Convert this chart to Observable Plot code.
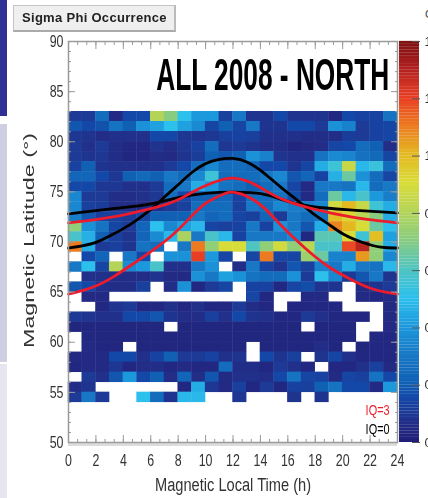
<!DOCTYPE html>
<html><head><meta charset="utf-8">
<script src="https://cdn.jsdelivr.net/npm/d3@7"></script>
<script src="https://cdn.jsdelivr.net/npm/@observablehq/plot@0.6"></script>
<style>
html,body{margin:0;padding:0;background:#fff;overflow:hidden}
#page{position:relative;width:428px;height:498px;overflow:hidden;font-family:"Liberation Sans",Arial,sans-serif}
#page svg{position:absolute;left:0;top:0;filter:blur(0.45px);background:transparent!important}
.strip{position:absolute;left:0;width:7px}
#btn{position:absolute;left:13px;top:5px;width:163px;height:27px;box-sizing:border-box;background:#efefef;border:1px solid #c4c4c4;border-bottom:2px solid #aaa;border-right:2px solid #bbb;font:bold 13px "Liberation Sans",sans-serif;color:#222;line-height:24px;padding-left:8px;letter-spacing:.3px;white-space:nowrap;filter:blur(.4px)}
#frag{position:absolute;left:425px;top:8px;font:11px "Liberation Sans",sans-serif;color:#444}
</style></head><body><div id="page">
<div class="strip" style="top:0;height:116px;background:#2f2f96"></div>
<div class="strip" style="top:124px;height:238px;background:#cfcfe2"></div>
<div class="strip" style="top:364px;height:134px;background:#e6e6f0"></div>
<div id="btn">Sigma Phi Occurrence</div>
<div id="frag">C</div>
</div>
<script>
const _ = null;
const topLat = 83;
const occurrence = [
[10,10,25,5,15,15,80,70,50,40,40,12,30,8,8,15,8,8,8,4,15,13,13,28],
[18,15,17,28,20,38,42,50,42,36,14,20,14,30,8,8,15,15,10,38,33,10,13,14],
[9,8,6,7,7,7,15,15,9,8,9,12,13,12,7,7,7,6,6,6,11,10,13,14],
[10,7,10,6,4,4,8,6,9,13,25,9,10,8,6,6,3,5,6,14,15,25,20,6],
[10,8,9,6,3,4,6,5,8,11,20,18,20,38,33,8,7,7,28,36,34,27,24,14],
[13,20,8,7,7,7,7,10,15,25,35,25,25,22,15,15,8,14,45,55,85,48,54,25],
[22,22,15,9,20,24,20,30,24,35,55,25,25,25,30,35,18,22,13,46,65,38,25,14],
[15,15,9,9,7,7,10,25,30,45,40,28,25,20,25,30,14,5,30,30,28,48,25,30],
[35,10,10,6,6,7,9,25,15,20,20,22,13,25,25,28,16,5,25,65,48,58,40,32],
[35,12,11,6,6,5,6,9,12,25,25,25,12,30,25,35,32,32,35,88,100,85,55,45],
[32,18,12,12,10,14,20,20,20,30,22,25,14,12,22,10,30,25,28,98,92,82,70,45],
[72,38,28,14,10,22,50,35,42,48,14,12,13,30,13,38,30,18,45,108,100,90,65,50],
[58,46,20,12,8,22,36,48,78,30,58,48,13,30,30,30,35,4,62,62,90,55,98,42],
[110,45,10,12,8,28,25,_,30,110,72,90,90,60,72,88,72,82,58,58,118,128,72,45],
[_,15,22,_,30,15,_,38,38,120,40,14,_,14,110,14,14,75,65,33,33,105,72,35],
[30,50,14,80,36,40,58,7,7,30,38,_,6,30,13,8,18,12,33,30,45,30,28,48],
[_,7,7,6,6,6,8,5,5,38,30,42,38,28,25,25,38,10,50,35,10,18,30,8],
[18,15,7,6,6,12,_,6,38,4,10,14,_,13,13,4,14,16,8,8,_,5,8,10],
[_,5,5,_,_,_,_,_,_,_,_,_,_,14,4,_,_,5,5,_,_,5,4,5],
[_,_,4,8,10,4,4,7,4,7,4,4,10,6,4,_,4,4,4,4,_,_,_,5],
[10,8,7,7,15,15,18,8,6,6,12,7,15,8,7,4,4,10,7,4,4,4,_,5],
[3,3,3,3,3,3,3,_,3,3,3,3,3,3,3,3,3,_,3,3,3,_,_,5],
[_,4,3,3,3,3,3,3,3,3,3,3,3,3,3,3,3,3,3,3,3,_,4,4],
[_,5,3,3,_,3,3,3,3,3,3,3,3,_,3,3,3,3,6,3,_,3,4,4],
[5,5,5,15,15,7,13,20,10,10,13,7,8,_,15,8,12,_,8,14,7,4,4,4],
[4,5,5,9,4,6,6,4,5,4,4,25,6,6,4,10,7,4,_,4,4,7,12,5],
[_,10,7,18,40,15,20,6,22,6,18,5,7,7,6,15,28,14,13,5,14,12,28,15],
[6,8,_,_,_,_,_,_,4,45,9,5,12,4,10,4,13,12,20,28,15,15,5,40],
[10,30,10,_,_,50,25,8,48,48,_,_,9,_,_,_,8,_,8,_,_,_,_,_]
];
const colorStops = [0,.05,.1,.15,.2,.3,.4,.5,.6,.7,.8,.9,1,1.1,1.2,1.3,1.4];
const colorRange = ["#1f1f78","#232a84","#1c3a96","#1448a8","#1060b4","#1878c6","#1c98dc","#2cc0ec","#50c4c0","#88cc80","#b4d458","#d8dc38","#e4b820","#ec7a20","#e83e24","#b02020","#7a1010"];

const blackOuterH = [0,1,2,3,4,5,6,7,8,9,10,11,12,13,14.3,15.5,16.7,17.9,18.9,20,21.5,22.8,24];
const blackOuterL = [69.4,69.6,69.9,70.6,71.3,72.2,73.2,74.5,75.7,77,77.9,78.3,78.4,78.1,76.9,75.4,74.2,72.7,71.9,70.7,69.9,69.4,69.4];
const blackInnerH = [0,3.6,6,8,10,12,14.3,15.5,17.4,20.4,24];
const blackInnerL = [72.8,73.4,73.7,74.5,74.9,75,74.9,74.2,73.5,73.2,72.9];
const redUpperH = [0,3.6,6.5,7.7,9.9,11.6,12,13,14.3,15.5,18,20.4,24];
const redUpperL = [71.9,72.5,73.5,73.9,75.7,76.4,76.4,76.2,75.2,74.2,73.2,72.5,71.9];
const redLowerH = [0,1.8,3.3,4.8,6.2,7.7,9.6,10.1,11.6,12,13,14.3,15.3,17.2,18.9,20.4,22.1,24];
const redLowerL = [64.8,65.4,66.5,67.9,69.2,70.7,73.5,74,75,75,74.7,73.5,71.9,69.4,67.5,66.4,65.2,64.8];
const xTicks = d3.range(0,25,2);
const xMinor = d3.range(0,24.01,2/3);
const yTicks = [50,55,60,65,70,75,80,85,90];
const yMinor = d3.range(50,91,1);
const barTicks = [0,.2,.4,.6,.8,1,1.2,1.4];

const cells = occurrence.flatMap((r,i)=>r.map((v,j)=>({h:j,lat:topLat-i,v:v==null?null:v/100}))).filter(d=>d.v!=null);
const zip=(H,L)=>H.map((h,i)=>({h,lat:L[i]}));
const sans='"Liberation Sans",Arial,sans-serif';
const gray="#9a9a9a";
const lw=2.8;
const blank=()=>"";

const main = Plot.plot({
  width:428,height:498,marginLeft:68,marginRight:31,marginTop:41,marginBottom:56,
  style:{background:"transparent",overflow:"hidden"},
  x:{domain:[0,24],axis:null},
  y:{domain:[50,90],axis:null},
  color:{type:"linear",domain:colorStops,range:colorRange,interpolate:"rgb"},
  marks:[
    Plot.rect(cells,{x1:"h",x2:d=>d.h+1,y1:"lat",y2:d=>d.lat-1,fill:"v",inset:-0.2}),
    Plot.line(zip(blackOuterH,blackOuterL),{x:"h",y:"lat",stroke:"#000",strokeWidth:lw,curve:"basis"}),
    Plot.line(zip(blackInnerH,blackInnerL),{x:"h",y:"lat",stroke:"#000",strokeWidth:lw,curve:"basis"}),
    Plot.line(zip(redUpperH,redUpperL),{x:"h",y:"lat",stroke:"#ec1c2c",strokeWidth:lw,curve:"basis"}),
    Plot.line(zip(redLowerH,redLowerL),{x:"h",y:"lat",stroke:"#ec1c2c",strokeWidth:lw,curve:"basis"}),
    Plot.ruleY([50],{stroke:"#dcdcdc",strokeWidth:3,dy:2}),
    Plot.axisX({anchor:"bottom",ticks:xMinor,tickSize:-3,tickFormat:blank,stroke:gray,label:null}),
    Plot.axisX({anchor:"top",ticks:xMinor,tickSize:-3,tickFormat:blank,stroke:gray,label:null}),
    Plot.axisY({anchor:"left",ticks:yMinor,tickSize:-3,tickFormat:blank,stroke:gray,label:null}),
    Plot.axisY({anchor:"right",ticks:yMinor,tickSize:-3,tickFormat:blank,stroke:gray,label:null}),
    Plot.axisX({anchor:"top",ticks:xTicks,tickSize:-7,tickFormat:blank,stroke:gray,label:null}),
    Plot.axisX({anchor:"bottom",ticks:xTicks,tickSize:-7,stroke:gray,label:null,tickPadding:19,fontSize:16,fontFamily:sans,fill:"#333"}),
    Plot.axisY({anchor:"left",ticks:yTicks,tickSize:-7,stroke:gray,label:null,tickPadding:12,fontSize:16,fontFamily:sans,fill:"#333"}),
    Plot.axisY({anchor:"right",ticks:yTicks,tickSize:-7,tickFormat:blank,stroke:gray,label:null}),
    Plot.frame({stroke:gray,strokeWidth:1.5}),
    Plot.text(["ALL 2008 - NORTH"],{x:14.9,y:86.6,fontSize:45,fontWeight:"bold",fontFamily:sans,fill:"#000"}),
    Plot.text(["IQ=3"],{x:22.55,y:53.2,fontSize:15,fontFamily:sans,fill:"#ec1c2c"}),
    Plot.text(["IQ=0"],{x:22.55,y:51.35,fontSize:15,fontFamily:sans,fill:"#000"}),
    Plot.text(["Magnetic Local Time (h)"],{x:12,y:45.75,fontSize:18,fontFamily:sans,fill:"#333"}),
    Plot.text(["Magnetic Latitude (°)"],{x:-2.9,y:70.15,rotate:-90,fontSize:15.5,fontFamily:sans,fill:"#333"})
  ]
});
const lengths = {"ALL 2008 - NORTH":233,"IQ=3":24,"IQ=0":24,"Magnetic Local Time (h)":156,"Magnetic Latitude (°)":215};
main.querySelectorAll("text").forEach(t=>{
  const s=t.textContent.trim();
  if(lengths[s]){t.setAttribute("textLength",lengths[s]);t.setAttribute("lengthAdjust","spacingAndGlyphs");}
  else if(/^\d+$/.test(s)&&s.length){t.setAttribute("textLength",s.length*6.9);t.setAttribute("lengthAdjust","spacingAndGlyphs");}
});
document.getElementById("page").append(main);

const barVals = d3.range(0,1.4,0.01);
const bar = Plot.plot({
  width:428,height:498,marginLeft:399,marginRight:9,marginTop:41,marginBottom:56,
  style:{background:"transparent"},
  x:{domain:[0,1],axis:null},
  y:{domain:[0,1.4],axis:null},
  color:{type:"linear",domain:colorStops,range:colorRange,interpolate:"rgb"},
  marks:[
    Plot.rect(barVals,{x1:0,x2:1,y1:d=>d,y2:d=>d+0.0105,fill:d=>d}),
    Plot.axisY({anchor:"right",ticks:barTicks,tickSize:-8,tickPadding:13,fontSize:13,fontFamily:sans,fill:"#333",stroke:"#555",label:null,tickFormat:d3.format(".1f")})
  ]
});
document.getElementById("page").append(bar);
</script></body></html>
